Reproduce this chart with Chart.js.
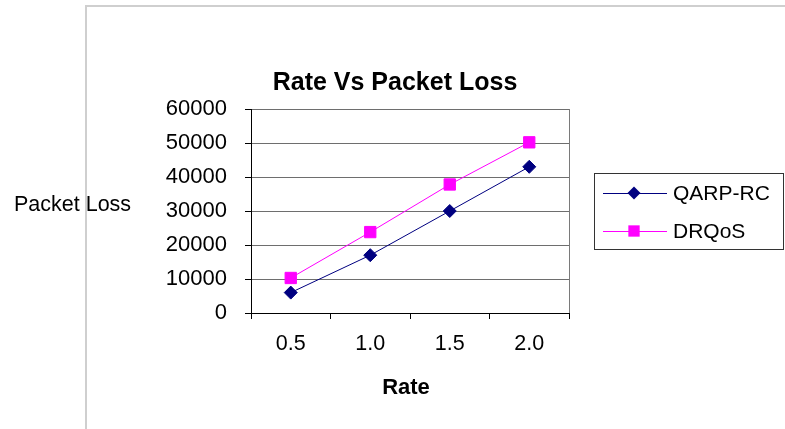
<!DOCTYPE html>
<html>
<head>
<meta charset="utf-8">
<script src="https://cdn.jsdelivr.net/npm/chart.js@4/dist/chart.umd.min.js"></script>
<style>
  html, body { margin: 0; padding: 0; background: #fff; }
  #wrap { width: 785px; height: 429px; position: relative; }
</style>
</head>
<body>
<div id="wrap"><canvas id="c" width="785" height="429"></canvas></div>
<script>
// Categories and series
const rates = ['0.5', '1.0', '1.5', '2.0'];
const qarpRc = [6000, 17000, 30000, 43000];
const drqos = [10300, 23800, 37800, 50200];
const yTickMin = 0;
const yTickMax = 60000;
const yTickStep = 10000;

const chartTitle = 'Rate Vs Packet Loss';
const xTitle = 'Rate';
const yTitle = 'Packet Loss';

const FONT = 'Liberation Sans, Arial, Helvetica, sans-serif';

// Frame, titles, plot border and the boxed legend
const decorations = {
  id: 'decorations',
  beforeDraw(chart) {
    const ctx = chart.ctx;
    ctx.save();
    ctx.fillStyle = '#fff';
    ctx.fillRect(0, 0, chart.width, chart.height);
    ctx.strokeStyle = '#cfcfcf';
    ctx.lineWidth = 2;
    ctx.beginPath();
    ctx.moveTo(86, chart.height);
    ctx.lineTo(86, 6);
    ctx.lineTo(chart.width, 6);
    ctx.stroke();
    ctx.restore();
  },
  beforeDatasetsDraw(chart) {
    const ctx = chart.ctx;
    const a = chart.chartArea;
    ctx.save();
    ctx.strokeStyle = '#7a7a7a';
    ctx.lineWidth = 1;
    ctx.beginPath();
    ctx.moveTo(Math.round(a.right) + 0.5, a.top);
    ctx.lineTo(Math.round(a.right) + 0.5, a.bottom);
    ctx.stroke();
    ctx.restore();
  },
  afterDraw(chart) {
    const ctx = chart.ctx;
    ctx.save();
    ctx.fillStyle = '#000';
    ctx.textBaseline = 'middle';

    // chart title
    ctx.font = 'bold 25px ' + FONT;
    ctx.textAlign = 'center';
    ctx.fillText(chartTitle, 395, 83);

    // x axis title
    ctx.font = 'bold 22px ' + FONT;
    ctx.fillText(xTitle, 406, 388);

    // y axis title
    ctx.font = '21.5px ' + FONT;
    ctx.textAlign = 'left';
    ctx.fillText(yTitle, 14, 205);

    // legend
    ctx.strokeStyle = '#333';
    ctx.lineWidth = 1;
    ctx.strokeRect(594.5, 173.5, 189, 76);
    const rows = [193, 231];
    chart.data.datasets.forEach((ds, i) => {
      const y = rows[i];
      ctx.strokeStyle = ds.borderColor;
      ctx.lineWidth = ds.borderWidth;
      ctx.beginPath();
      ctx.moveTo(603, y + 0.5);
      ctx.lineTo(667, y + 0.5);
      ctx.stroke();
      ctx.fillStyle = ds.pointBackgroundColor;
      const cx = 634;
      if (ds.pointStyle === 'rectRot') {
        const r = ds.pointRadius;
        ctx.beginPath();
        ctx.moveTo(cx - r, y);
        ctx.lineTo(cx, y - r);
        ctx.lineTo(cx + r, y);
        ctx.lineTo(cx, y + r);
        ctx.closePath();
        ctx.fill();
      } else {
        const s = Math.SQRT1_2 * ds.pointRadius;
        ctx.fillRect(cx - s, y - s, 2 * s, 2 * s);
      }
      ctx.fillStyle = '#000';
      ctx.font = '21px ' + FONT;
      ctx.textAlign = 'left';
      ctx.fillText(ds.label, 673, y + 1);
    });
    ctx.restore();
  }
};

new Chart(document.getElementById('c'), {
  type: 'line',
  data: {
    labels: rates,
    datasets: [
      {
        label: 'QARP-RC',
        data: qarpRc,
        borderColor: '#000080',
        backgroundColor: '#000080',
        pointBackgroundColor: '#000080',
        pointBorderColor: '#000080',
        borderWidth: 1,
        pointStyle: 'rectRot',
        pointRadius: 6.5,
        pointBorderWidth: 1,
        tension: 0
      },
      {
        label: 'DRQoS',
        data: drqos,
        borderColor: '#ff00ff',
        backgroundColor: '#ff00ff',
        pointBackgroundColor: '#ff00ff',
        pointBorderColor: '#ff00ff',
        borderWidth: 1,
        pointStyle: 'rect',
        pointRadius: 8,
        pointBorderWidth: 1,
        tension: 0
      }
    ]
  },
  options: {
    responsive: false,
    animation: false,
    devicePixelRatio: 1,
    layout: { padding: { left: 0, right: 216, top: 109, bottom: 0 } },
    plugins: {
      legend: { display: false },
      title: { display: false },
      tooltip: { enabled: false }
    },
    scales: {
      x: {
        type: 'category',
        offset: true,
        grid: {
          offset: true,
          drawOnChartArea: false,
          drawTicks: true,
          tickLength: 6,
          tickColor: '#000'
        },
        border: { display: true, color: '#000', width: 1 },
        ticks: {
          color: '#000',
          padding: 12,
          maxRotation: 0,
          font: { family: FONT, size: 21.5 }
        },
        afterFit(scale) { scale.height = 116; }
      },
      y: {
        min: yTickMin,
        max: yTickMax,
        grid: {
          color: (c) => (c.tick && c.tick.value === 0 ? '#000' : '#6e6e6e'),
          tickColor: '#000',
          tickLength: 6,
          lineWidth: 1
        },
        border: { display: true, color: '#000', width: 1 },
        ticks: {
          stepSize: yTickStep,
          color: '#000',
          padding: 18,
          font: { family: FONT, size: 22 },
          callback: (v) => String(v)
        },
        afterFit(scale) { scale.width = 251; }
      }
    }
  },
  plugins: [decorations]
});
</script>
</body>
</html>
